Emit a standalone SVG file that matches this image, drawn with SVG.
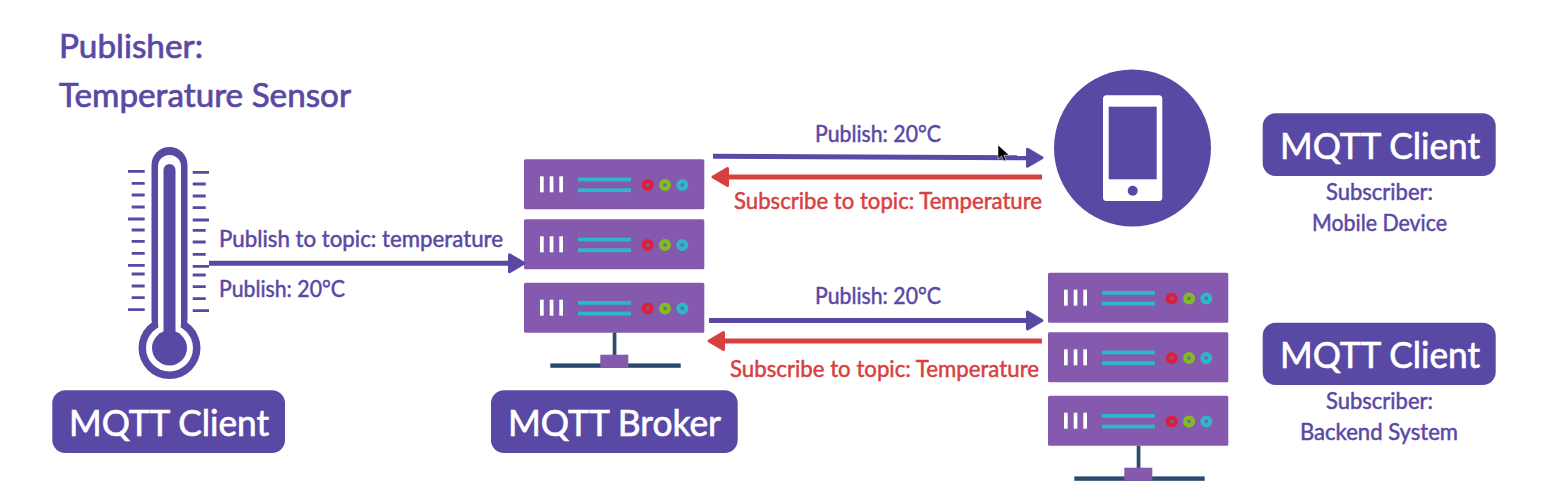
<svg xmlns="http://www.w3.org/2000/svg" xmlns:xlink="http://www.w3.org/1999/xlink" width="1549" height="496" viewBox="0 0 1549 496">
<style>
text{font-family:"Lato","Noto Sans","Liberation Sans",sans-serif;font-weight:700}
.p{fill:#5a48a5}.r{fill:#d8403f}.w{fill:#fff}
.t1{font-size:32px;font-weight:400;stroke:#5a48a5;stroke-width:.7px}.t2{font-size:23px;font-weight:400;stroke-width:.5px}
.t2.p{stroke:#5a48a5}.t2.r{stroke:#d8403f}
.t3{font-size:36px;font-weight:400;stroke:#fff;stroke-width:.7px}
.box{fill:#5a48a5}
.tk{stroke:#5a48a5;stroke-width:2.8;fill:none}
.cp{stroke:#5a48a5;stroke-width:5;fill:none}
.cr{stroke:#d8403f;stroke-width:5;fill:none}
.srv{fill:#8459ae}.bar{fill:#fff}.teal{fill:#2db8c5}
.led{fill:none;stroke-width:4.200}
.nav{fill:#2b4a6f}
</style>
<defs>
<marker id="ap" markerUnits="userSpaceOnUse" markerWidth="20" markerHeight="26" refX="2" refY="13" orient="auto" viewBox="0 0 20 26"><path d="M1.500 4.500 L16 13 L1.500 21.500 Z" fill="#5a48a5" stroke="#5a48a5" stroke-width="3" stroke-linejoin="round"/></marker>
<marker id="ar" markerUnits="userSpaceOnUse" markerWidth="20" markerHeight="26" refX="2" refY="13" orient="auto" viewBox="0 0 20 26"><path d="M1.500 4.500 L16 13 L1.500 21.500 Z" fill="#d8403f" stroke="#d8403f" stroke-width="3" stroke-linejoin="round"/></marker>
<g id="unit">
<rect class="srv" width="180.300" height="50" rx="1.500"/>
<rect class="bar" x="16" y="17" width="3.700" height="16"/><rect class="bar" x="25.700" y="17" width="3.700" height="16"/><rect class="bar" x="35.300" y="17" width="3.700" height="16"/>
<rect class="teal" x="54" y="18.300" width="53" height="3.800"/><rect class="teal" x="54" y="29" width="53" height="3.800"/>
<circle class="led" cx="123.700" cy="25.700" r="3.900" stroke="#d9213a"/><circle class="led" cx="141" cy="25.700" r="3.900" stroke="#7ebf1f"/><circle class="led" cx="158.300" cy="25.700" r="3.900" stroke="#2db8c5"/>
</g>
<g id="stand">
<rect class="nav" x="88.700" y="0" width="3.700" height="24"/>
<rect class="nav" x="26.300" y="30.700" width="130.400" height="4.400"/>
<rect class="srv" x="76.300" y="22" width="28" height="13"/>
</g>
</defs>

<g id="publisher-title">
<text class="t1 p" x="59" y="58.300" textLength="144" lengthAdjust="spacingAndGlyphs">Publisher:</text>
<text class="t1 p" x="59" y="106.700" textLength="292" lengthAdjust="spacingAndGlyphs">Temperature Sensor</text>
</g>

<g id="thermometer">
<rect class="p" x="151.500" y="147" width="36" height="190" rx="18"/><circle class="p" cx="169.500" cy="348" r="31"/>
<rect class="w" x="158" y="155" width="23" height="180" rx="11.500"/><circle class="w" cx="169.500" cy="348" r="23.500"/>
<rect class="p" x="163.500" y="164" width="12" height="175" rx="6"/><circle class="p" cx="169.500" cy="348" r="17.500"/>
<path class="tk" d="M128 171.300H144.700M131.700 183.300H144.700M131.700 195H144.700M131.700 207H144.700M128 219H144.700M131.700 230H144.700M131.700 241.300H144.700M131.700 253.300H144.700M128 265.300H144.700M131.700 274H144.700M131.700 286H144.700M131.700 297.700H144.700M128 309.700H144.700"/>
<path class="tk" d="M192.700 172.300H209M192.700 184H205.700M192.700 196H205.700M192.700 207.700H205.700M192.700 220H209M192.700 230.300H205.700M192.700 242H205.700M192.700 254.300H205.700M192.700 266.300H209M192.700 275H205.700M192.700 286.700H205.700M192.700 298.700H205.700M192.700 310.700H209"/>
</g>

<g id="client-publisher">
<rect class="box" x="52.300" y="390.300" width="232.700" height="62.700" rx="13"/>
<text class="t3 w" x="69" y="436" textLength="200" lengthAdjust="spacingAndGlyphs">MQTT Client</text>
</g>

<g id="broker">
<use href="#unit" x="524" y="159.300"/>
<use href="#unit" x="524" y="219.300"/>
<use href="#unit" x="524" y="282.700"/>
<use href="#stand" x="524" y="332.700"/>
</g>

<g id="broker-label">
<rect class="box" x="491" y="390.300" width="246.700" height="62.700" rx="13"/>
<text class="t3 w" x="508" y="436" textLength="213" lengthAdjust="spacingAndGlyphs">MQTT Broker</text>
</g>

<g id="phone">
<circle class="p" cx="1132.500" cy="148" r="78.500"/>
<rect class="w" x="1103" y="95.300" width="59.300" height="105.700" rx="3.500"/>
<rect class="p" x="1108.700" y="106.700" width="48" height="72.600"/>
<circle class="p" cx="1132.700" cy="190.700" r="5"/>
</g>

<g id="backend">
<use href="#unit" x="1048" y="272.700"/>
<use href="#unit" x="1048" y="332.300"/>
<use href="#unit" x="1048" y="395.700"/>
<use href="#stand" x="1048" y="445.700"/>
</g>

<g id="client-mobile">
<rect class="box" x="1262.700" y="113.300" width="233" height="62.700" rx="13"/>
<text class="t3 w" x="1280" y="159" textLength="200" lengthAdjust="spacingAndGlyphs">MQTT Client</text>
<text class="t2 p" x="1326" y="199.500" textLength="107" lengthAdjust="spacingAndGlyphs">Subscriber:</text>
<text class="t2 p" x="1312" y="231.200" textLength="135" lengthAdjust="spacingAndGlyphs">Mobile Device</text>
</g>

<g id="client-backend">
<rect class="box" x="1262.700" y="322.700" width="233" height="62.300" rx="13"/>
<text class="t3 w" x="1280" y="368" textLength="200" lengthAdjust="spacingAndGlyphs">MQTT Client</text>
<text class="t2 p" x="1326" y="408.800" textLength="107" lengthAdjust="spacingAndGlyphs">Subscriber:</text>
<text class="t2 p" x="1300" y="439.800" textLength="158" lengthAdjust="spacingAndGlyphs">Backend System</text>
</g>

<g id="connectors">
<line class="cp" x1="209" y1="263.300" x2="510" y2="263.300" marker-end="url(#ap)"/>
<line class="cp" x1="713" y1="156.300" x2="1028" y2="157.700" marker-end="url(#ap)"/>
<line class="cr" x1="1042" y1="177" x2="727" y2="177" marker-end="url(#ar)"/>
<line class="cp" x1="709" y1="320.500" x2="1028" y2="320.500" marker-end="url(#ap)"/>
<line class="cr" x1="1042" y1="341" x2="723" y2="341" marker-end="url(#ar)"/>
</g>

<g id="connector-labels">
<text class="t2 p" x="219" y="247" textLength="284" lengthAdjust="spacingAndGlyphs">Publish to topic: temperature</text>
<text class="t2 p" x="219" y="297" textLength="126" lengthAdjust="spacingAndGlyphs">Publish: 20°C</text>
<text class="t2 p" x="815" y="142" textLength="126" lengthAdjust="spacingAndGlyphs">Publish: 20°C</text>
<text class="t2 r" x="734" y="208.800" textLength="308" lengthAdjust="spacingAndGlyphs">Subscribe to topic: Temperature</text>
<text class="t2 p" x="815" y="304.300" textLength="126" lengthAdjust="spacingAndGlyphs">Publish: 20°C</text>
<text class="t2 r" x="730" y="376.500" textLength="309" lengthAdjust="spacingAndGlyphs">Subscribe to topic: Temperature</text>
</g>

<path id="cursor" d="M998 145 L998 159 L1001.500 156 L1004 161 L1006 160 L1003.800 155.200 L1009 155 Z" fill="#000" stroke="#fff" stroke-width="0.500"/>
</svg>
